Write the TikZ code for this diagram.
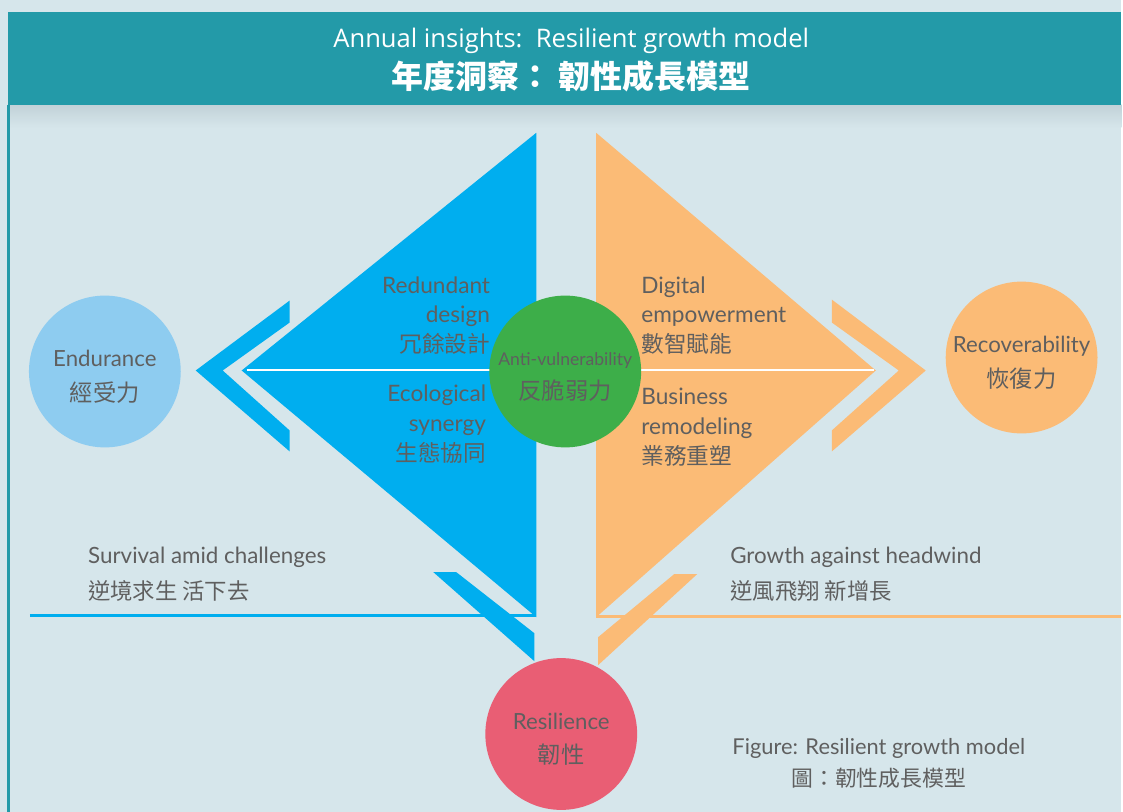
\documentclass[tikz,border=0pt]{standalone}
\usepackage{fontspec}
\setmainfont{Lato}
\newfontfamily\headfont{Open Sans}
\newfontfamily\cjk{Noto Sans CJK TC}
\usetikzlibrary{positioning}

\definecolor{bgcol}{RGB}{214,230,235}
\definecolor{shadowcol}{RGB}{194,210,216}
\definecolor{headteal}{RGB}{35,154,168}
\definecolor{wedgeblue}{RGB}{0,174,239}
\definecolor{wedgeorange}{RGB}{251,187,118}
\definecolor{paleblue}{RGB}{142,204,240}
\definecolor{antigreen}{RGB}{61,174,73}
\definecolor{rosered}{RGB}{233,94,116}
\definecolor{textgray}{RGB}{95,95,95}

\newcommand{\cjkbig}{\cjk\fontsize{17.5}{26}\selectfont}

\begin{document}
\begin{tikzpicture}[x=0.75pt,y=-0.75pt,
  txt/.style={text=textgray,inner sep=0pt,font=\fontsize{17}{22.5}\selectfont},
  ring/.style={circle,minimum size=114pt,inner sep=0pt},
  ringtxt/.style={align=center,text=textgray,inner sep=0pt,yshift=-4pt,
    font=\fontsize{16.7}{26}\selectfont}]
%background and header
\fill[bgcol] (0,0) rectangle (1123,813);
\shade[top color=shadowcol,bottom color=bgcol] (8,105) rectangle (1123,128);
\fill[headteal] (8,12) rectangle (1123,105);
\fill[headteal] (7,105) rectangle (10,813);
\node[text=white,font=\headfont\fontsize{19.2}{22}\selectfont] (title) at (572,41) {Annual insights:\ \ Resilient growth model};
\node[text=white,font=\cjk\bfseries\fontsize{24}{28}\selectfont] (titlecjk) at (572,76) {年度洞察： 韌性成長模型};
%left wedge
\fill[wedgeblue] (196,371) -- (290,301) -- (290,323) -- (223,371) -- (290,431) -- (290,452) -- cycle;
\fill[wedgeblue] (242,371) -- (537,133) -- (537,618) -- cycle;
\fill[wedgeblue] (434,573) -- (457,573) -- (535,634) -- (535,662) -- cycle;
\draw[wedgeblue,line width=2.3pt] (30,616) -- (537,616);
%right wedge
\fill[wedgeorange] (927,371) -- (833,300) -- (833,323) -- (900,371) -- (833,431) -- (833,452) -- cycle;
\fill[wedgeorange] (877,371) -- (597,133) -- (597,618) -- cycle;
\fill[wedgeorange] (698,575) -- (675,575) -- (599,638) -- (599,666) -- cycle;
\draw[wedgeorange,line width=2.3pt] (597,617) -- (1123,617);
%axis
\coordinate (axisl) at (247,371);
\coordinate (axisr) at (875,371);
\draw[white,line width=1.5pt] (axisl) -- (axisr);
%circles
\node[ring,fill=paleblue] (endur) at (105,372) {};
\node[ring,fill=wedgeorange] (recov) at (1023,358) {};
\node[ring,fill=antigreen] (anti) at (566,372) {};
\node[ring,fill=rosered] (resil) at (562,735) {};
\node[ringtxt] (endurtxt) at (endur.center) {Endurance\\{\cjkbig 經受力}};
\node[ringtxt] (recovtxt) at (recov.center) {Recoverability\\{\cjkbig 恢復力}};
\node[ringtxt,font=\fontsize{13.2}{26}\selectfont] (antitxt) at (anti.center) {Anti-vulnerability\\{\cjkbig 反脆弱力}};
\node[ringtxt] (resiltxt) at (resil.center) {Resilience\\{\cjkbig 韌性}};
%labels on the wedges
\node[txt,anchor=east,align=right] (redund) at (491,316) {Redundant\\design\\{\cjk 冗餘設計}};
\node[txt,anchor=east,align=right] (ecolog) at (487,425) {Ecological\\synergy\\{\cjk 生態協同}};
\node[txt,anchor=west,align=left] (digital) at (642,316) {Digital\\empowerment\\{\cjk 數智賦能}};
\node[txt,anchor=west,align=left] (business) at (642,428) {Business\\remodeling\\{\cjk 業務重塑}};
%bottom texts
\node[txt,anchor=west,align=left,font=\fontsize{16.8}{27}\selectfont] (survive) at (88,575) {Survival amid challenges\\{\cjk 逆境求生 活下去}};
\node[txt,anchor=west,align=left,font=\fontsize{16.8}{27}\selectfont] (growth) at (731,575) {Growth against headwind\\{\cjk 逆風飛翔 新增長}};
\node[txt,align=center,font=\fontsize{16.4}{24}\selectfont] (caption) at (880,764) {Figure: Resilient growth model\\{\cjk 圖：韌性成長模型}};
\end{tikzpicture}
\end{document}
